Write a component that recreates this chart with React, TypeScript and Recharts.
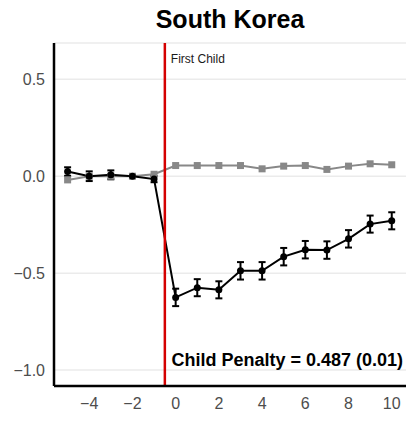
import {
  ComposedChart, Line, XAxis, YAxis, CartesianGrid, ReferenceLine, ErrorBar, Customized,
} from "recharts";

// Event-time estimates relative to first birth (South Korea)
const eventYears = [-5, -4, -3, -2, -1, 0, 1, 2, 3, 4, 5, 6, 7, 8, 9, 10];
const womenEffect = [0.024, 0, 0.007, 0, -0.015, -0.625, -0.575, -0.586, -0.488, -0.488, -0.415, -0.379, -0.381, -0.323, -0.247, -0.23];
const womenSe = [0.022, 0.025, 0.023, 0, 0.016, 0.045, 0.044, 0.044, 0.045, 0.045, 0.045, 0.045, 0.045, 0.045, 0.044, 0.044];
const menEffect = [-0.019, 0, 0, 0, 0.01, 0.055, 0.055, 0.055, 0.055, 0.038, 0.052, 0.055, 0.035, 0.052, 0.064, 0.059];
const xTicks = [-4, -2, 0, 2, 4, 6, 8, 10];
const yTicks = [-1, -0.5, 0, 0.5];
const penaltyLabel = "Child Penalty = 0.487 (0.01)";

const data = eventYears.map((t, i) => ({
  t,
  women: womenEffect[i],
  se: womenSe[i],
  men: menEffect[i],
}));

const FONT = "'Liberation Sans', Arial, sans-serif";
const minus = (s: string) => s.replace("-", "\u2212");

const SquareDot = (props: any) => {
  const { cx, cy } = props;
  if (cx == null || cy == null) return null;
  return <rect x={cx - 3.5} y={cy - 3.5} width={7} height={7} fill="#888888" />;
};

const FirstChildLabel = (props: any) => {
  const { viewBox } = props;
  return (
    <text x={viewBox.x + 6} y={viewBox.y + 20} fontSize={12} fill="#1a1a1a" fontFamily={FONT}>
      First Child
    </text>
  );
};

const Annotations = (props: any) => {
  const off = props.offset ?? { left: 54, top: 43, width: 352, height: 343 };
  return (
    <g>
      <text x={off.left + off.width / 2} y={28} textAnchor="middle" fontSize={25} fontWeight="bold" fill="#000" fontFamily={FONT}>
        South Korea
      </text>
      <text x={403} y={366} textAnchor="end" fontSize={18} fontWeight="bold" fill="#000" fontFamily={FONT}>
        {penaltyLabel}
      </text>
    </g>
  );
};

export default function App() {
  return (
    <div style={{ position: "absolute", left: 0, top: 0, width: 409, height: 423, background: "#fff" }}>
      <ComposedChart width={409} height={423} data={data} margin={{ top: 43, right: 3, bottom: 0, left: 0 }}>
        <CartesianGrid vertical={false} stroke="#ebebeb" strokeWidth={1.5} />
        <XAxis
          dataKey="t"
          type="number"
          domain={[-5.63, 10.66]}
          ticks={xTicks}
          tickFormatter={(v: number) => minus(String(v))}
          tickLine={false}
          tickSize={6}
          tickMargin={6}
          height={37}
          axisLine={{ stroke: "#000", strokeWidth: 2.5 }}
          tick={{ fontSize: 16, fill: "#4d4d4d", fontFamily: FONT }}
          allowDataOverflow
        />
        <YAxis
          type="number"
          domain={[-1.082, 0.687]}
          ticks={yTicks}
          tickFormatter={(v: number) => minus(v.toFixed(1))}
          tickLine={false}
          tickSize={6}
          tickMargin={3}
          width={54}
          axisLine={{ stroke: "#000", strokeWidth: 2.5 }}
          tick={{ fontSize: 16, fill: "#4d4d4d", fontFamily: FONT }}
          allowDataOverflow
        />
        <Line
          dataKey="men"
          stroke="#888888"
          strokeWidth={2}
          dot={<SquareDot />}
          activeDot={false}
          isAnimationActive={false}
        />
        <Line
          dataKey="women"
          stroke="#000"
          strokeWidth={2}
          dot={{ r: 3.5, fill: "#000", stroke: "#000", strokeWidth: 0 }}
          activeDot={false}
          isAnimationActive={false}
        >
          <ErrorBar dataKey="se" direction="y" width={3.5} stroke="#000" strokeWidth={2} isAnimationActive={false} />
        </Line>
        <ReferenceLine x={-0.5} stroke="#d40000" strokeWidth={2.5} label={<FirstChildLabel />} />
        <Customized component={Annotations} />
      </ComposedChart>
    </div>
  );
}
